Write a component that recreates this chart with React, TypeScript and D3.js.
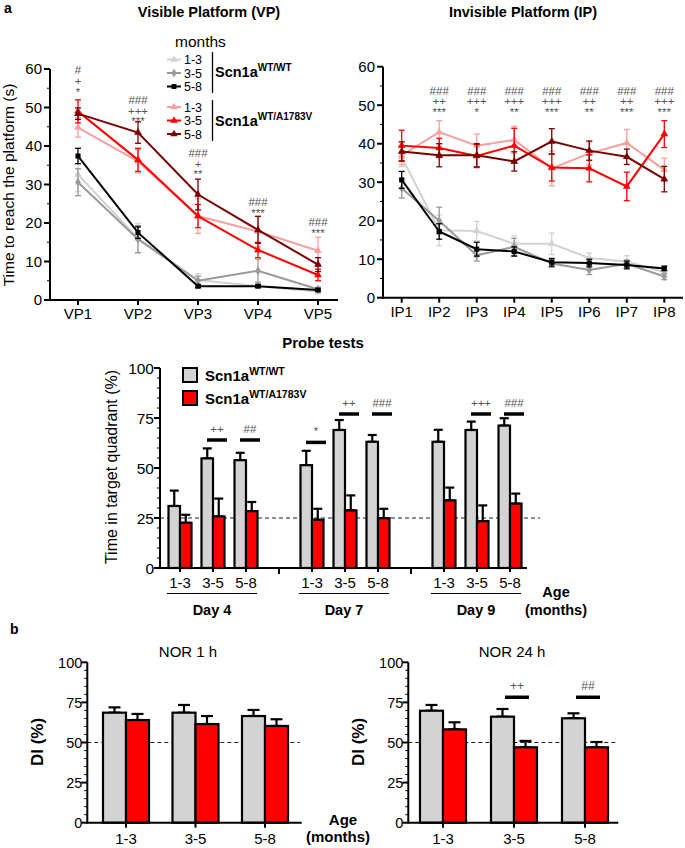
import React from "react";
import * as d3 from "d3";

const FONT = "'Liberation Sans', Arial, Helvetica, sans-serif";

// ---------------- data ----------------
const VP_CATS = ["VP1", "VP2", "VP3", "VP4", "VP5"];
const IP_CATS = ["IP1", "IP2", "IP3", "IP4", "IP5", "IP6", "IP7", "IP8"];
const AGE_GROUPS = ["1-3", "3-5", "5-8"];
const DAYS = ["Day 4", "Day 7", "Day 9"];

// Visible platform (s), mean and SEM
const vpWt13 = [32.6, 16, 5.2, 3.6, 2.2];
const vpWt13Err = [4.5, 3.8, 1.6, 0.5, 0.6];
const vpWt35 = [30.6, 15.8, 5, 7.6, 2.8];
const vpWt35Err = [3.5, 3.5, 1.2, 3, 0.5];
const vpWt58 = [37.4, 17.5, 3.6, 3.6, 2.6];
const vpWt58Err = [2, 1.5, 0.4, 0.3, 0.3];
const vpMut13 = [44.8, 36, 21.8, 17.8, 12.8];
const vpMut13Err = [2.5, 3, 4.5, 4, 3.5];
const vpMut35 = [49, 36.4, 21.8, 13, 6.5];
const vpMut35Err = [3, 3, 3, 2, 1.5];
const vpMut58 = [48.4, 43.5, 27.4, 18.2, 9.2];
const vpMut58Err = [1.5, 2.8, 4, 3.5, 1.8];
const vpAnnot = [["#", "+", "*"], ["###", "+++", "***"], ["###", "+", "**"], ["###", "***"], ["###", "***"]];
const vpAnnotTop = [59.7, 52, 38.2, 25.5, 20.3];

// Invisible platform (s)
const ipWt13 = [36.5, 17.5, 17.3, 14, 14, 10.3, 9.4, 6.6];
const ipWt13Err = [2.5, 4, 2.5, 2, 2.8, 1.3, 1.5, 1];
const ipWt35 = [28.4, 20, 11, 13.2, 8.9, 7.2, 8.8, 5.5];
const ipWt35Err = [2.5, 3.5, 1.5, 2.2, 1, 1.2, 1, 0.8];
const ipWt58 = [30.6, 17.2, 12.6, 12, 9.2, 9, 8.5, 7.6];
const ipWt58Err = [2.2, 2, 1.8, 1.2, 1, 1, 1, 0.6];
const ipMut13 = [37, 43, 39.5, 41, 33.6, 37.5, 40.2, 33.2];
const ipMut13Err = [2.5, 3, 3, 3.5, 4.5, 3, 3.5, 3];
const ipMut35 = [39.5, 38.9, 36.8, 39.5, 33.8, 33.6, 28.9, 42.5];
const ipMut35Err = [4, 2.5, 3, 4.5, 3.5, 3.5, 3.7, 3.5];
const ipMut58 = [38, 37, 37, 35.4, 40.6, 38.2, 36.6, 30.8];
const ipMut58Err = [2.5, 3, 3, 2.5, 3.3, 2.5, 2, 3.3];
const ipAnnot = [
  [],
  ["###", "++", "***"],
  ["###", "+++", "*"],
  ["###", "+++", "**"],
  ["###", "+++", "***"],
  ["###", "++", "**"],
  ["###", "++", "***"],
  ["###", "+++", "***"],
];
const ipAnnotTop = 53.8;

// Probe tests (% time in target quadrant): Day4 x3, Day7 x3, Day9 x3
const probeWt = [31, 54.8, 53.9, 51.4, 69, 63.1, 63.1, 69, 71.2];
const probeWtErr = [7.7, 5, 3.7, 7.2, 5, 3.4, 6, 4.2, 3.7];
const probeMut = [22.6, 25.8, 28.4, 24.1, 28.8, 24.9, 33.8, 23.4, 32.2];
const probeMutErr = [4, 8.9, 4.6, 5.5, 7.5, 4.7, 6.4, 7.9, 5];
const probeSigIndex = [1, 2, 3, 4, 5, 7, 8];
const probeSigLabel = ["++", "##", "*", "++", "###", "+++", "###"];
const probeSigLevel = [64, 64, 62.8, 77, 77, 77, 77];
const probeChance = 25;

// NOR discrimination index (%)
const nor1Wt = [68.6, 68.6, 66.5];
const nor1WtErr = [3.3, 4.8, 3.8];
const nor1Mut = [64, 61.5, 60.3];
const nor1MutErr = [3.8, 5, 4.2];
const nor24Wt = [69.8, 66.1, 65.1];
const nor24WtErr = [3.6, 4.8, 3.1];
const nor24Mut = [58.2, 47, 47];
const nor24MutErr = [4.4, 4, 3.3];
const nor24SigIndex = [1, 2];
const nor24SigLabel = ["++", "##"];
const nor24SigLevel = [78.2, 78.2];
const norChance = 50;

// ---------------- styles ----------------
const SERIES_STYLE = [
  { label: "1-3", color: "#d2d2d2", symbol: d3.symbolTriangle },
  { label: "3-5", color: "#9a9a9a", symbol: d3.symbolDiamond },
  { label: "5-8", color: "#000000", symbol: d3.symbolSquare },
  { label: "1-3", color: "#f7a0a0", symbol: d3.symbolTriangle },
  { label: "3-5", color: "#ff0000", symbol: d3.symbolTriangle },
  { label: "5-8", color: "#7a0000", symbol: d3.symbolTriangle },
];
const WT_FILL = "#d3d3d3";
const MUT_FILL = "#ff0000";
const ANNOT_COLOR = "#555";

type Series = { values: number[]; errs: number[] };

function YAxis({ x, scale, major, minor, labelSize, labelGap = 8 }: any) {
  const [d0, d1] = scale.domain();
  const minors = d3.range(d0, d1 + 0.001, minor);
  return (
    <g>
      <line x1={x} x2={x} y1={scale(d0) + 1} y2={scale(d1)} stroke="#000" strokeWidth={2} />
      {minors.map((v: number) => {
        const isMajor = Math.abs(v / major - Math.round(v / major)) < 1e-6;
        return (
          <line key={v} x1={x - (isMajor ? 6 : 3)} x2={x} y1={scale(v)} y2={scale(v)} stroke="#000" strokeWidth={isMajor ? 2 : 1} />
        );
      })}
      {d3.range(d0, d1 + 0.001, major).map((v: number) => (
        <text key={"l" + v} x={x - labelGap} y={scale(v) + labelSize * 0.36} textAnchor="end" fontSize={labelSize} fontFamily={FONT}>
          {v}
        </text>
      ))}
    </g>
  );
}

function ErrorBar({ x, yTop, yBottom, color, cap, width }: any) {
  return (
    <g stroke={color} strokeWidth={width}>
      <line x1={x} x2={x} y1={yTop} y2={yBottom} />
      <line x1={x - cap / 2} x2={x + cap / 2} y1={yTop} y2={yTop} />
      {yBottom !== undefined && <line x1={x - cap / 2} x2={x + cap / 2} y1={yBottom} y2={yBottom} />}
    </g>
  );
}

function LineChart({ cats, series, x, y, axisX0, axisX1, annot, annotTop, tickSize }: any) {
  const y0 = y(0);
  const symbolGen = d3.symbol();
  const line = d3.line<number>().x((_: number, i: number) => x(cats[i])!).y((v: number) => y(v));
  return (
    <g>
      <YAxis x={axisX0} scale={y} major={10} minor={5} labelSize={tickSize} />
      <line x1={axisX0} x2={axisX1} y1={y0} y2={y0} stroke="#000" strokeWidth={2} />
      {cats.map((c: string) => (
        <g key={c}>
          <line x1={x(c)} x2={x(c)} y1={y0} y2={y0 + 5} stroke="#000" strokeWidth={2} />
          <text x={x(c)} y={y0 + 19} textAnchor="middle" fontSize={tickSize} fontFamily={FONT}>
            {c}
          </text>
        </g>
      ))}
      {series.map((s: Series, si: number) => {
        const st = SERIES_STYLE[si];
        return (
          <g key={si}>
            {s.values.map((v, i) => (
              <ErrorBar key={i} x={x(cats[i])} yTop={y(v + s.errs[i])} yBottom={y(Math.max(0, v - s.errs[i]))} color={st.color} cap={6} width={1.3} />
            ))}
            <path d={line(s.values) || ""} fill="none" stroke={st.color} strokeWidth={2} />
            {s.values.map((v, i) => (
              <path key={"m" + i} transform={`translate(${x(cats[i])},${y(v)})`} d={symbolGen.type(st.symbol).size(26)() || ""} fill={st.color} />
            ))}
          </g>
        );
      })}
      {annot.map((rows: string[], i: number) => {
        const top = Array.isArray(annotTop) ? annotTop[i] : annotTop;
        return rows.map((r: string, k: number) => (
          <text key={i + "-" + k} x={x(cats[i])} y={y(top) + 4 + k * 10.7} textAnchor="middle" fontSize={11.5} fill={ANNOT_COLOR} fontFamily={FONT}>
            {r}
          </text>
        ));
      })}
    </g>
  );
}

function Scn({ x, y, sup, size, supSize }: any) {
  return (
    <text x={x} y={y} fontSize={size} fontWeight="bold" fontFamily={FONT}>
      Scn1a
      <tspan dy={-size * 0.42} fontSize={supSize}>
        {sup}
      </tspan>
    </text>
  );
}

function BarPair({ cx, wt, wtErr, mut, mutErr, y, bw, cap }: any) {
  const y0 = y(0);
  return (
    <g>
      <ErrorBar x={cx - bw / 2} yTop={y(wt + wtErr)} yBottom={y(wt)} color="#000" cap={cap} width={2.2} />
      <ErrorBar x={cx + bw / 2} yTop={y(mut + mutErr)} yBottom={y(mut)} color="#000" cap={cap} width={2.2} />
      <rect x={cx - bw} y={y(wt)} width={bw} height={y0 - y(wt)} fill={WT_FILL} stroke="#000" strokeWidth={2.2} />
      <rect x={cx} y={y(mut)} width={bw} height={y0 - y(mut)} fill={MUT_FILL} stroke="#000" strokeWidth={2.2} />
    </g>
  );
}

function SigBar({ cx, level, label, y, half, fs }: any) {
  const yy = y(level);
  return (
    <g>
      <line x1={cx - half} x2={cx + half} y1={yy} y2={yy} stroke="#000" strokeWidth={3.5} />
      <text x={cx} y={yy - 7} textAnchor="middle" fontSize={fs} fill={ANNOT_COLOR} fontFamily={FONT}>
        {label}
      </text>
    </g>
  );
}

function NorChart({ axisX, axisX1, centers, wt, wtErr, mut, mutErr, sigIdx, sigLabel, sigLevel, title, titleX }: any) {
  const y = d3.scaleLinear().domain([0, 100]).range([822.7, 662.3]);
  const x = d3.scalePoint().domain(AGE_GROUPS).range(centers);
  const bw = 23;
  return (
    <g>
      <text x={titleX} y={656.5} textAnchor="middle" fontSize={15} fontFamily={FONT}>
        {title}
      </text>
      <line x1={axisX} x2={axisX1 - 2} y1={y(norChance)} y2={y(norChance)} stroke="#222" strokeWidth={1.1} strokeDasharray="4,3" />
      {AGE_GROUPS.map((g, i) => (
        <BarPair key={g} cx={x(g)} wt={wt[i]} wtErr={wtErr[i]} mut={mut[i]} mutErr={mutErr[i]} y={y} bw={bw} cap={12} />
      ))}
      <YAxis x={axisX} scale={y} major={25} minor={5} labelSize={14.5} labelGap={5} />
      <line x1={axisX} x2={axisX1} y1={y(0)} y2={y(0)} stroke="#000" strokeWidth={2} />
      {AGE_GROUPS.map((g) => (
        <g key={"t" + g}>
          <line x1={x(g)} x2={x(g)} y1={y(0)} y2={y(0) + 5} stroke="#000" strokeWidth={2} />
          <text x={x(g)} y={y(0) + 21} textAnchor="middle" fontSize={15} fontFamily={FONT}>
            {g}
          </text>
        </g>
      ))}
      {(sigIdx || []).map((idx: number, k: number) => (
        <SigBar key={k} cx={(x(AGE_GROUPS[idx]) as number) + 3} level={sigLevel[k]} label={sigLabel[k]} y={y} half={12} fs={12} />
      ))}
      <text transform={`translate(${axisX - 44},742) rotate(-90)`} textAnchor="middle" fontSize={17} fontWeight="bold" fontFamily={FONT}>
        DI (%)
      </text>
    </g>
  );
}

export default function App() {
  // top panels
  const yVP = d3.scaleLinear().domain([0, 60]).range([300, 69]);
  const xVP = d3.scalePoint().domain(VP_CATS).range([78, 318]);
  const yIP = d3.scaleLinear().domain([0, 60]).range([297.7, 66.7]);
  const xIP = d3.scalePoint().domain(IP_CATS).range([401.7, 664.3]);

  const vpSeries: Series[] = [
    { values: vpWt13, errs: vpWt13Err },
    { values: vpWt35, errs: vpWt35Err },
    { values: vpWt58, errs: vpWt58Err },
    { values: vpMut13, errs: vpMut13Err },
    { values: vpMut35, errs: vpMut35Err },
    { values: vpMut58, errs: vpMut58Err },
  ];
  const ipSeries: Series[] = [
    { values: ipWt13, errs: ipWt13Err },
    { values: ipWt35, errs: ipWt35Err },
    { values: ipWt58, errs: ipWt58Err },
    { values: ipMut13, errs: ipMut13Err },
    { values: ipMut35, errs: ipMut35Err },
    { values: ipMut58, errs: ipMut58Err },
  ];

  // probe
  const yP = d3.scaleLinear().domain([0, 100]).range([568, 368]);
  // slot index: group * 4 + age
  const xSlot = d3.scaleLinear().domain([0, 10]).range([180, 510]);
  const slotOf = (i: number) => Math.floor(i / 3) * 4 + (i % 3);
  const probeBw = 11.5;

  const symbolGen = d3.symbol();
  const legendRows = [59.5, 73, 86.5, 107, 120.5, 134];

  return (
    <div style={{ position: "absolute", left: 0, top: 0 }}>
      <svg width={685} height={848} style={{ display: "block", background: "#fff" }} fontFamily={FONT}>
        {/* panel labels */}
        <text x={4} y={13} fontSize={14} fontWeight="bold">a</text>
        <text x={10} y={634} fontSize={14} fontWeight="bold">b</text>

        {/* VP */}
        <text x={209} y={17} textAnchor="middle" fontSize={14.5} fontWeight="bold">Visible Platform (VP)</text>
        <text transform="translate(14,185) rotate(-90)" textAnchor="middle" fontSize={15.5}>Time to reach the platform (s)</text>
        <LineChart cats={VP_CATS} series={vpSeries} x={xVP} y={yVP} axisX0={50} axisX1={338} annot={vpAnnot} annotTop={vpAnnotTop} tickSize={15} />

        {/* legend */}
        <text x={175} y={47} fontSize={15.5}>months</text>
        {SERIES_STYLE.map((st, i) => (
          <g key={i}>
            <line x1={167} x2={181} y1={legendRows[i]} y2={legendRows[i]} stroke={st.color} strokeWidth={2} />
            <path transform={`translate(174,${legendRows[i]})`} d={symbolGen.type(st.symbol).size(24)() || ""} fill={st.color} />
            <text x={184} y={legendRows[i] + 4.5} fontSize={12.5}>{st.label}</text>
          </g>
        ))}
        <line x1={212.5} x2={212.5} y1={52} y2={93} stroke="#000" strokeWidth={1.3} />
        <line x1={212.5} x2={212.5} y1={100} y2={141} stroke="#000" strokeWidth={1.3} />
        <Scn x={215} y={77} sup="WT/WT" size={14.5} supSize={10} />
        <Scn x={215} y={126} sup="WT/A1783V" size={14.5} supSize={10} />

        {/* IP */}
        <text x={523} y={17} textAnchor="middle" fontSize={14.5} fontWeight="bold">Invisible Platform (IP)</text>
        <LineChart cats={IP_CATS} series={ipSeries} x={xIP} y={yIP} axisX0={383} axisX1={683} annot={ipAnnot} annotTop={ipAnnotTop} tickSize={15} />

        {/* Probe tests */}
        <text x={323} y={348} textAnchor="middle" fontSize={15} fontWeight="bold">Probe tests</text>
        <text transform="translate(117,467) rotate(-90)" textAnchor="middle" fontSize={16}>Time in target quadrant (%)</text>
        <line x1={160} x2={540} y1={yP(probeChance)} y2={yP(probeChance)} stroke="#222" strokeWidth={1.1} strokeDasharray="4,3" />
        {probeWt.map((v, i) => (
          <BarPair key={i} cx={xSlot(slotOf(i))} wt={v} wtErr={probeWtErr[i]} mut={probeMut[i]} mutErr={probeMutErr[i]} y={yP} bw={probeBw} cap={9} />
        ))}
        <YAxis x={160} scale={yP} major={25} minor={5} labelSize={15.5} labelGap={6} />
        <line x1={160} x2={527} y1={yP(0)} y2={yP(0)} stroke="#000" strokeWidth={2} />
        {[3, 7].map((s) => (
          <line key={s} x1={xSlot(s)} x2={xSlot(s)} y1={yP(0)} y2={yP(0) + 6} stroke="#000" strokeWidth={2} />
        ))}
        {probeWt.map((_, i) => {
          const cx = xSlot(slotOf(i));
          return (
            <g key={"pt" + i}>
              <line x1={cx} x2={cx} y1={yP(0)} y2={yP(0) + 4} stroke="#000" strokeWidth={2} />
              <text x={cx} y={yP(0) + 20} textAnchor="middle" fontSize={15}>{AGE_GROUPS[i % 3]}</text>
            </g>
          );
        })}
        {DAYS.map((d, g) => {
          const a = xSlot(g * 4) - 13;
          const b = xSlot(g * 4 + 2) + 11;
          return (
            <g key={d}>
              <line x1={a} x2={b} y1={593.5} y2={593.5} stroke="#000" strokeWidth={1} />
              <text x={(a + b) / 2} y={615} textAnchor="middle" fontSize={14.5} fontWeight="bold">{d}</text>
            </g>
          );
        })}
        <text x={556} y={597} textAnchor="middle" fontSize={14.5} fontWeight="bold">Age</text>
        <text x={556} y={615} textAnchor="middle" fontSize={14.5} fontWeight="bold">(months)</text>
        {probeSigIndex.map((idx, k) => (
          <SigBar key={k} cx={xSlot(slotOf(idx)) + 4} level={probeSigLevel[k]} label={probeSigLabel[k]} y={yP} half={10} fs={11.5} />
        ))}
        {/* probe legend */}
        <rect x={183} y={368} width={14} height={14} fill={WT_FILL} stroke="#000" strokeWidth={2} />
        <rect x={183} y={391} width={14} height={14} fill={MUT_FILL} stroke="#000" strokeWidth={2} />
        <Scn x={205} y={381} sup="WT/WT" size={15} supSize={10.5} />
        <Scn x={205} y={404} sup="WT/A1783V" size={15} supSize={10.5} />

        {/* NOR */}
        <NorChart axisX={87.3} axisX1={301.7} centers={[126, 265]} wt={nor1Wt} wtErr={nor1WtErr} mut={nor1Mut} mutErr={nor1MutErr} title="NOR 1 h" titleX={188} />
        <NorChart axisX={408.3} axisX1={618.3} centers={[443, 585]} wt={nor24Wt} wtErr={nor24WtErr} mut={nor24Mut} mutErr={nor24MutErr} sigIdx={nor24SigIndex} sigLabel={nor24SigLabel} sigLevel={nor24SigLevel} title="NOR 24 h" titleX={512} />
        <text x={343} y={825} textAnchor="middle" fontSize={15} fontWeight="bold">Age</text>
        <text x={338} y={842} textAnchor="middle" fontSize={15} fontWeight="bold">(months)</text>
      </svg>
    </div>
  );
}
